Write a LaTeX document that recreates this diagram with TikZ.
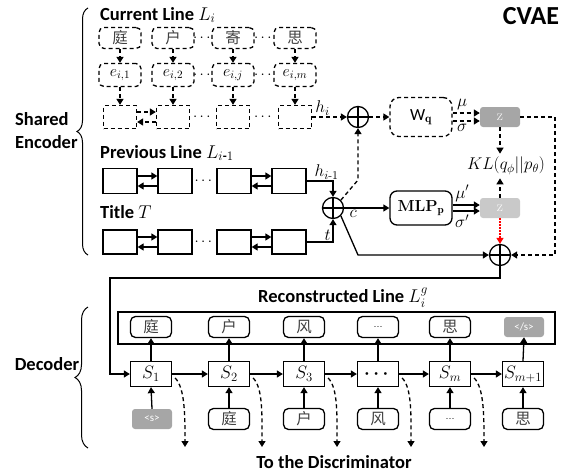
\RequirePackage{fix-cm}
\documentclass[tikz,border=0pt]{standalone}
\usepackage{amsmath}
\usepackage{fontspec}
\usetikzlibrary{arrows.meta,decorations.pathreplacing,calc}
\newfontfamily\lblfont{Carlito}
\newfontfamily\cjkfont{Noto Sans CJK SC}
\definecolor{zdark}{HTML}{A6A6A6}
\definecolor{zlight}{HTML}{C9C9C9}
\definecolor{hanzi}{HTML}{404040}
\newcommand\mylbl{\lblfont\bfseries\fontsize{18.5}{23}\selectfont}
\newcommand\hzf{\cjkfont\fontsize{15.5}{15.5}\selectfont}
\newcommand\mathf{\fontsize{17}{19}\selectfont}
\begin{document}
\begin{tikzpicture}[x=1pt,y=-1pt,
  lw/.style={line width=1.3pt},
  arr/.style={lw,-{Triangle[length=6pt,width=7pt]}},
  dsh/.style={dash pattern=on 4pt off 3pt},
  cbox/.style={draw,lw,dsh,rounded corners=5pt,minimum width=42pt,minimum height=21pt,inner sep=0pt},
  ebox/.style={draw,lw,dsh,rounded corners=5pt,minimum width=42pt,minimum height=23pt,inner sep=0pt,font=\fontsize{16}{16}\selectfont},
  hbox/.style={draw,lw,dsh,minimum width=33pt,minimum height=23pt,inner sep=0pt},
  pbox/.style={draw,lw,minimum width=34pt,minimum height=25pt,inner sep=0pt},
  sbox/.style={draw,lw,minimum width=41pt,minimum height=25pt,inner sep=0pt,font=\fontsize{18}{18}\selectfont},
  wbox/.style={draw,lw,rounded corners=5pt,minimum width=41pt,minimum height=21pt,inner sep=0pt},
  gbox/.style={fill=zdark,rounded corners=3pt,minimum width=40pt,minimum height=20pt,inner sep=0pt,text=white,font=\lblfont\fontsize{11}{11}\selectfont},
  zbox/.style={rounded corners=3pt,minimum width=40pt,minimum height=20pt,inner sep=0pt,text=white,font=\fontsize{15}{15}\selectfont},
  hz/.style={text=hanzi,font=\hzf},
  opl/.style={circle,draw,lw,minimum size=21pt,inner sep=0pt,
    path picture={\draw[lw] (path picture bounding box.north) -- (path picture bounding box.south)
      (path picture bounding box.west) -- (path picture bounding box.east);}},
  lbl/.style={font=\mylbl,inner sep=0pt},
  mth/.style={font=\mathf},
  dots/.style={font=\fontsize{15}{15}\selectfont,inner sep=0pt}
]
\useasboundingbox (0,0) rectangle (575,474);

% ---------- titles ----------
\node[lbl,anchor=west] (tcur) at (100,15) {Current Line $L_i$};
\node[lbl,anchor=west] (tprev) at (100,153) {Previous Line $L_{i\text{-}1}$};
\node[lbl,anchor=west] (ttit) at (100,212) {Title $T$};
\node[lbl,anchor=west,align=left] (tse) at (15,131) {Shared\\Encoder};
\node[lbl] (tdec) at (47,364) {Decoder};
\node[font=\lblfont\bfseries\fontsize{26}{26}\selectfont,inner sep=0pt] (tcvae) at (531,16) {CVAE};

\draw[line width=1pt,decorate,decoration={brace,amplitude=11pt}] (88,255) -- (88,8);
\draw[line width=1pt,decorate,decoration={brace,amplitude=13pt}] (88,448) -- (88,307);

% ---------- current line ----------
\foreach \n/\x/\c/\e in {a/120/庭/{1}, b/173/户/{2}, c/233/寄/{j}, d/295/思/{m}} {
  \node[cbox,hz] (r\n) at (\x,38) {\c};
  \node[ebox] (e\n) at (\x,75) {$e_{i,\e}$};
  \node[hbox] (h\n) at (\x,117) {};
  \draw[arr,dsh] (r\n) -- (e\n);
  \draw[arr,dsh] (e\n) -- (h\n);
}
\node[dots] (dr1) at ($(rb.east)!0.5!(rc.west)$) {$\cdots$};
\node[dots] (dr2) at ($(rc.east)!0.5!(rd.west)$) {$\cdots$};
\node[dots] (de1) at ($(eb.east)!0.5!(ec.west)$) {$\cdots$};
\node[dots] (de2) at ($(ec.east)!0.5!(ed.west)$) {$\cdots$};
\node[dots] (dh1) at ($(hb.east)!0.5!(hc.west)$) {$\cdots$};
\node[dots] (dh2) at ($(hc.east)!0.5!(hd.west)$) {$\cdots$};
\draw[arr,dsh] ([yshift=5pt]ha.east) -- ([yshift=5pt]hb.west);
\draw[arr,dsh] ([yshift=-5pt]hb.west) -- ([yshift=-5pt]ha.east);

% ---------- previous line and title ----------
\foreach \n/\x in {a/120, b/175, c/234, d/289} {
  \node[pbox] (p\n) at (\x,181) {};
  \node[pbox,minimum height=24pt] (t\n) at (\x,242) {};
}
\foreach \r in {p,t} {
  \draw[arr] ([yshift=5pt]\r a.east) -- ([yshift=5pt]\r b.west);
  \draw[arr] ([yshift=-5pt]\r b.west) -- ([yshift=-5pt]\r a.east);
  \draw[arr] ([yshift=5pt]\r c.east) -- ([yshift=5pt]\r d.west);
  \draw[arr] ([yshift=-5pt]\r d.west) -- ([yshift=-5pt]\r c.east);
  \node[dots] (d\r) at ($(\r b.east)!0.5!(\r c.west)$) {$\cdots$};
}

% ---------- CVAE part ----------
\node[opl] (op1) at (358,117) {};
\node[draw,lw,dsh,rounded corners=9pt,minimum width=62pt,minimum height=39pt] (wq) at (421,117)
  {\lblfont\fontsize{17}{17}\selectfont W$_{\mathbf{q}}$};
\node[zbox,fill=zdark] (zq) at (500,117) {z};
\node[mth] (kl) at (506,166) {$KL(q_\phi||p_\theta)$};
\node[opl] (op2) at (333,208) {};
\node[draw,lw,rounded corners=7pt,minimum width=62pt,minimum height=34pt] (mlp) at (421,208)
  {\fontsize{16}{16}\selectfont\textbf{MLP}$_{\mathbf{p}}$};
\node[zbox,fill=zlight] (zp) at (500,208) {z};
\node[opl] (op3) at (500,255) {};

\draw[arr,dsh] (hd.east) -- node[mth,above,pos=0.3,inner sep=1pt]{$h_i$} (op1.west);
\draw[arr,dsh] (op1) -- (wq);
\draw[arr,dsh] ([yshift=4pt]wq.east) -- node[mth,above=3pt,pos=0.35,inner sep=0pt]{$\mu$} ([yshift=4pt]zq.west);
\draw[arr,dsh] ([yshift=-4pt]wq.east) -- node[mth,below=3pt,pos=0.35,inner sep=0pt]{$\sigma$} ([yshift=-4pt]zq.west);
\draw[arr,dsh] (zq.south) -- (zq.south |- kl.north);
\draw[arr,dsh] (zp.north) -- (zp.north |- kl.south);

\draw[arr] (pd.east) -| node[mth,above,pos=0.38,inner sep=1pt]{$h_{i\text{-}1}$} (op2.north);
\draw[arr] (td.east) -| node[mth,above,pos=0.4,inner sep=1pt]{$t$} (op2.south);
\draw[arr] (op2.east) -- node[mth,below,pos=0.2,inner sep=2pt]{$c$} (mlp.west);
\draw[arr] ([yshift=3pt]mlp.east) -- node[mth,above=3pt,pos=0.35,inner sep=0pt]{$\mu'$} ([yshift=3pt]zp.west);
\draw[arr] ([yshift=-3pt]mlp.east) -- node[mth,below=3pt,pos=0.35,inner sep=0pt]{$\sigma'$} ([yshift=-3pt]zp.west);

\coordinate (k1) at (358,180);
\coordinate (k2) at (358,255);
\coordinate (k3) at (555,255);
\coordinate (k4) at (110,278);
\draw[arr,dsh] (op2.north east) -- (k1) -- (op1.south);
\draw[arr] (op2.south east) -- (k2) -- (op3.west);
\draw[arr,dsh] (zq.east) -| (k3) -- (op3.east);
\draw[arr,red,dash pattern=on 1.5pt off 1.5pt] (zp.south) -- (op3.north);

% ---------- decoder ----------
\node[draw,lw,minimum width=437pt,minimum height=32pt,inner sep=0pt] (recon) at (336.5,328) {};
\node[lbl] (trec) at (343,298) {Reconstructed Line $L_i^g$};
\node[lbl] (tdis) at (334,462) {To the Discriminator};

\node[wbox,hz] (o1) at (151,327) {庭};
\node[wbox,hz] (o2) at (229,327) {户};
\node[wbox,hz] (o3) at (304,327) {风};
\node[wbox,font=\fontsize{11}{11}\selectfont] (o4) at (378,327) {...};
\node[wbox,hz] (o5) at (450,327) {思};
\node[gbox] (o6) at (524,327) {</s>};

\node[sbox] (s1) at (151,374) {$S_1$};
\node[sbox] (s2) at (229,374) {$S_2$};
\node[sbox] (s3) at (304,374) {$S_3$};
\node[sbox] (s4) at (378,374) {$\boldsymbol{\cdots}$};
\node[sbox] (s5) at (450,374) {$S_m$};
\node[sbox] (s6) at (523,374) {$S_{m+1}$};

\node[gbox] (i1) at (152,419) {<s>};
\node[wbox,hz] (i2) at (229,419) {庭};
\node[wbox,hz] (i3) at (304,419) {户};
\node[wbox,hz] (i4) at (378,419) {风};
\node[wbox,font=\fontsize{11}{11}\selectfont] (i5) at (450,419) {...};
\node[wbox,hz] (i6) at (523,419) {思};

\foreach \k in {1,...,6} {
  \draw[arr] (i\k.north) -- (s\k.south);
  \draw[arr] (s\k.north) -- (o\k.south);
}
\foreach \k/\j in {1/2,2/3,3/4,4/5,5/6} {
  \draw[arr] (s\k.east) -- (s\j.west);
}
\foreach \k/\x in {1/185,2/262,3/337,4/411,5/484} {
  \coordinate (d\k) at (\x,447);
  \draw[arr,dsh] ($(s\k.east)+(3,4)$) .. controls +(10,10) and +(0,-30) .. (d\k);
}
\draw[arr] (op3.south) |- (k4) |- (s1.west);
\end{tikzpicture}
\end{document}
